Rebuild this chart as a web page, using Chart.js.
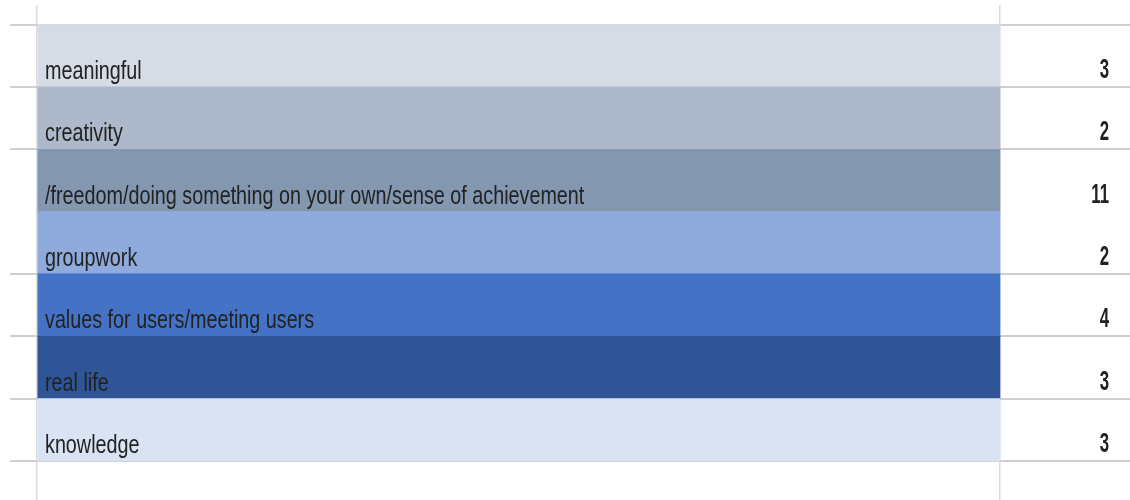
<!DOCTYPE html>
<html>
<head>
<meta charset="utf-8">
<script src="https://cdn.jsdelivr.net/npm/chart.js@4/dist/chart.umd.min.js"></script>
<style>
  body { margin: 0; background: #fff; }
</style>
</head>
<body>
<canvas id="table-chart" width="1130" height="500"></canvas>
<script>
const categories = [
  'meaningful',
  'creativity',
  '/freedom/doing something on your own/sense of achievement',
  'groupwork',
  'values for users/meeting users',
  'real life',
  'knowledge'
]
const counts = [3, 2, 11, 2, 4, 3, 3]
// every band runs the full width of the label column
const bandWidth = [1, 1, 1, 1, 1, 1, 1]
const bandColors = ['#d6dce5', '#adb9ca', '#8497b0', '#8faadc', '#4472c4', '#2f5597', '#dae3f3']

const labelFont = '26px "Liberation Sans", sans-serif'
const countFont = 'bold 28px "Liberation Sans", sans-serif'

/**
 * Writes the category inside each band and its count in the right column.
 * The source text is a squeezed Calibri, so the glyphs are narrowed a bit.
 */
const rowText = {
  id: 'rowText',
  afterDatasetsDraw (chart) {
    const { ctx, chartArea, scales: { x, y } } = chart
    categories.forEach((name, i) => {
      const base = y.getPixelForValue(i + 0.5) - 8

      ctx.save()
      ctx.translate(x.getPixelForValue(0) + 8, base)
      ctx.scale(0.76, 1)
      ctx.fillStyle = '#222'
      ctx.font = labelFont
      ctx.textAlign = 'left'
      ctx.textBaseline = 'alphabetic'
      ctx.fillText(name, 0, 0)
      ctx.restore()

      ctx.save()
      ctx.translate(chartArea.right - 21, base - 1)
      ctx.scale(0.6, 1)
      ctx.fillStyle = '#222'
      ctx.font = countFont
      ctx.textAlign = 'right'
      ctx.textBaseline = 'alphabetic'
      ctx.fillText(String(counts[i]), 0, 0)
      ctx.restore()
    })
  }
}

// eslint-disable-next-line no-unused-vars, no-undef
const chart = new Chart(document.querySelector('#table-chart'), {
  type: 'bar',
  data: {
    datasets: [{
      data: categories.map((name, i) => ({ x: bandWidth[i], y: i })),
      backgroundColor: bandColors,
      borderWidth: 0,
      barPercentage: 1,
      categoryPercentage: 1
    }]
  },
  options: {
    indexAxis: 'y',
    responsive: false,
    animation: false,
    layout: { padding: { left: 10, top: 5, right: 0, bottom: 0 } },
    scales: {
      x: {
        type: 'linear',
        min: 0,
        max: 1.135,
        afterBuildTicks: axis => { axis.ticks = [{ value: 0 }, { value: 1 }] },
        ticks: { display: false },
        grid: { color: '#dcdcdc', lineWidth: 1.5, drawTicks: false },
        border: { display: false }
      },
      y: {
        type: 'linear',
        reverse: true,
        offset: false,
        min: -0.813,
        max: 7.125,
        afterBuildTicks: axis => {
          axis.ticks = categories.map((name, i) => ({ value: i - 0.5 }))
          axis.ticks.push({ value: categories.length - 0.5 })
        },
        ticks: { display: false },
        grid: {
          offset: false,
          color: ctx => (ctx.tick && ctx.tick.value === 2.5 ? 'rgba(0,0,0,0)' : '#cfcfcf'),
          lineWidth: 2,
          drawTicks: true,
          tickLength: 27
        },
        border: { display: false }
      }
    },
    plugins: {
      legend: { display: false },
      tooltip: { enabled: false }
    }
  },
  plugins: [rowText]
})
</script>
</body>
</html>
